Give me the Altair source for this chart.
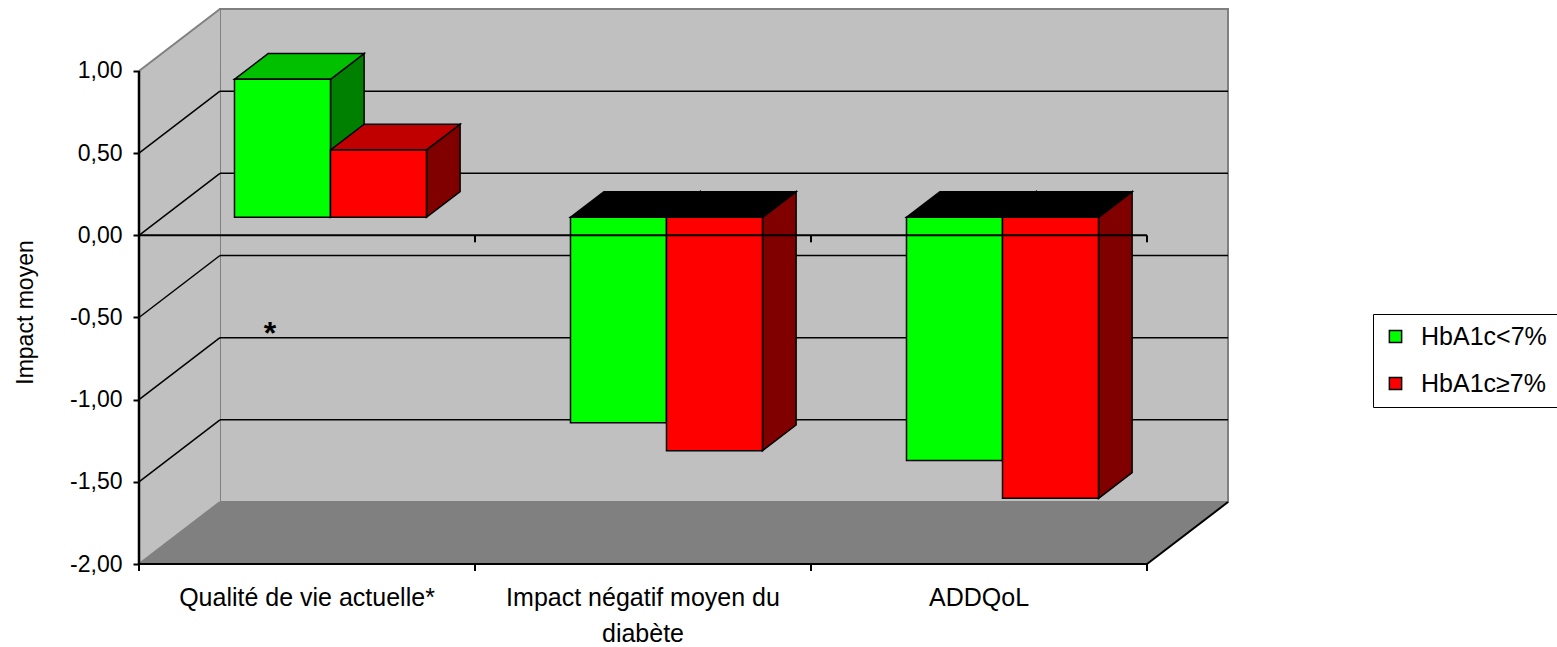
import altair as alt
import pandas as pd

# ---- data -------------------------------------------------------------
categories = ["Qualité de vie actuelle*", "Impact négatif moyen du\ndiabète", "ADDQoL"]
series_names = ["HbA1c<7%", "HbA1c≥7%"]
hba1c_below_7 = [0.84, -1.25, -1.48]
hba1c_7_or_more = [0.41, -1.42, -1.71]
y_ticks = [-2.0, -1.5, -1.0, -0.5, 0.0, 0.5, 1.0]

# ---- styling / 3D projection -------------------------------------------
FONT = "Liberation Sans"
DEPTH_X = 0.241          # shift (category units) from front plane to back wall
DEPTH_Y = 0.377          # shift (value units) from front plane to back wall
BAR_Z0, BAR_Z1 = 0.29, 0.705   # depth of bar front / back faces
BAR_W = 1 / 3.5          # two bars + 150 % gap per category
N = len(categories)
Y_MIN, Y_MAX = y_ticks[0], y_ticks[-1]

front_colors = ["#00FF00", "#FF0000"]
top_colors = ["#00C000", "#C00000"]
side_colors = ["#008000", "#800000"]
WALL = "#C0C0C0"
FLOOR = "#808080"
EDGE = "#808080"

xs = alt.Scale(domain=[0, N + DEPTH_X], nice=False, zero=False)
ys = alt.Scale(domain=[Y_MIN, Y_MAX + DEPTH_Y], nice=False, zero=False)

y_axis = alt.Axis(
    values=y_ticks,
    labelExpr="(datum.value < 0 ? '-' : '') + replace(format(abs(datum.value), '.2f'), '.', ',')",
    domain=False, grid=False, ticks=True, tickSize=6, tickWidth=2, tickColor="black",
    labelFont=FONT, labelFontSize=23, labelColor="black", labelPadding=11,
    title="Impact moyen", titleFont=FONT, titleFontSize=23, titleFontWeight="normal",
    titleColor="black", titleAngle=270, titleX=-114, titleY=303,
    titleAlign="center", titleBaseline="middle", zindex=1,
)


def X(f):
    return alt.X(f, type="quantitative", scale=xs, axis=None)


def Y(f):
    return alt.Y(f, type="quantitative", scale=ys, axis=y_axis)


def segments(rows, color, width, **extra):
    """Straight line segments between (x, y) and (x2, y2)."""
    return alt.Chart(pd.DataFrame(rows)).mark_rule(color=color, strokeWidth=width, **extra).encode(
        x=X("x"), x2="x2", y=Y("y"), y2="y2"
    )


def verticals(rows, color, width, **extra):
    """Vertical line segments at x from y to y2."""
    return alt.Chart(pd.DataFrame(rows)).mark_rule(color=color, strokeWidth=width, **extra).encode(
        x=X("x"), y=Y("y"), y2="y2"
    )


# ---- bar faces ---------------------------------------------------------
front_rows, top_rows, side_rows = [], [], []
for s, vals in enumerate([hba1c_below_7, hba1c_7_or_more]):
    for k, v in enumerate(vals):
        xa = k + 0.5 - BAR_W + s * BAR_W
        xb = xa + BAR_W
        hi, lo = max(v, 0.0), min(v, 0.0)
        fid = f"{s}-{k}"
        front_rows.append(dict(series=series_names[s],
                               x=xa + BAR_Z0 * DEPTH_X, x2=xb + BAR_Z0 * DEPTH_X,
                               y=lo + BAR_Z0 * DEPTH_Y, y2=hi + BAR_Z0 * DEPTH_Y))
        top_fill = top_colors[s] if v > 0 else "#000000"
        for z in (BAR_Z0, BAR_Z1):
            top_rows.append(dict(face=fid, fill=top_fill, y=hi + z * DEPTH_Y,
                                 x=xa + z * DEPTH_X, x2=xb + z * DEPTH_X))
            side_rows.append(dict(face=fid, fill=side_colors[s], x=xb + z * DEPTH_X,
                                  y=hi + z * DEPTH_Y, y2=lo + z * DEPTH_Y))

front_df = pd.DataFrame(front_rows)
top_df = pd.DataFrame(top_rows)
side_df = pd.DataFrame(side_rows)

# ---- walls and floor ---------------------------------------------------
back_wall = alt.Chart(pd.DataFrame([dict(x=DEPTH_X, x2=N + DEPTH_X, y=Y_MIN + DEPTH_Y, y2=Y_MAX + DEPTH_Y)])).mark_rect(
    fill=WALL, stroke=EDGE, strokeWidth=2
).encode(x=X("x"), x2="x2", y=Y("y"), y2="y2")

left_wall = alt.Chart(pd.DataFrame([
    dict(x=0.0, y=Y_MIN, y2=Y_MAX),
    dict(x=DEPTH_X, y=Y_MIN + DEPTH_Y, y2=Y_MAX + DEPTH_Y),
])).mark_area(orient="vertical", fill=WALL, opacity=1).encode(x=X("x"), y=Y("y"), y2="y2")

floor = alt.Chart(pd.DataFrame([
    dict(y=Y_MIN, x=0.0, x2=float(N)),
    dict(y=Y_MIN + DEPTH_Y, x=DEPTH_X, x2=N + DEPTH_X),
])).mark_area(orient="horizontal", fill=FLOOR, opacity=1).encode(y=Y("y"), x=X("x"), x2="x2")

inner_ticks = [t for t in y_ticks if Y_MIN < t < Y_MAX]
back_grid = segments([dict(x=DEPTH_X, x2=N + DEPTH_X, y=t + DEPTH_Y, y2=t + DEPTH_Y) for t in inner_ticks],
                     "black", 1.5)
left_grid = segments([dict(x=0.0, x2=DEPTH_X, y=t, y2=t + DEPTH_Y) for t in inner_ticks], "black", 1.5)
grey_edges = segments([dict(x=0.0, x2=DEPTH_X, y=t, y2=t + DEPTH_Y) for t in (Y_MIN, Y_MAX)], EDGE, 2)
floor_right_edge = segments([dict(x=float(N), x2=N + DEPTH_X, y=Y_MIN, y2=Y_MIN + DEPTH_Y)], "black", 2)

# ---- bars --------------------------------------------------------------
sides = alt.Chart(side_df).mark_area(orient="vertical", stroke="black", strokeWidth=1.5, opacity=1).encode(
    x=X("x"), y=Y("y"), y2="y2", detail="face:N", fill=alt.Fill("fill:N", scale=None)
)
tops = alt.Chart(top_df).mark_area(orient="horizontal", stroke="black", strokeWidth=1.5, opacity=1).encode(
    y=Y("y"), x=X("x"), x2="x2", detail="face:N", fill=alt.Fill("fill:N", scale=None)
)
fronts = alt.Chart(front_df).mark_rect(stroke="black", strokeWidth=1.5, opacity=1).encode(
    x=X("x"), x2="x2", y=Y("y"), y2="y2",
    color=alt.Color("series:N", scale=alt.Scale(domain=series_names, range=front_colors),
                    legend=alt.Legend(title=None, orient="none", legendX=1234, legendY=305,
                                      direction="vertical", symbolType="square", symbolSize=150,
                                      symbolStrokeColor="black", symbolStrokeWidth=1.5,
                                      labelFont=FONT, labelFontSize=25, labelColor="black",
                                      labelOffset=13, rowPadding=21, padding=10,
                                      strokeColor="black", fillColor="white")),
)

# ---- front axes (drawn over the bars) ------------------------------------
value_axis_line = verticals([dict(x=0.0, y=Y_MIN, y2=Y_MAX)], "black", 2.5)
front_lines = segments([
    dict(x=0.0, x2=float(N), y=0.0, y2=0.0),
    dict(x=0.0, x2=float(N), y=Y_MIN, y2=Y_MIN),
], "black", 2)

zero_ticks = segments([dict(x=float(k), x2=float(k), y=0.0, y2=0.0) for k in range(1, N + 1)],
                      "black", 2, y2Offset=7)
bottom_ticks = segments([dict(x=float(k), x2=float(k), y=Y_MIN, y2=Y_MIN) for k in range(0, N + 1)],
                        "black", 2, y2Offset=7)

cat_labels = alt.Chart(pd.DataFrame(dict(x=[k + 0.5 for k in range(N)], y=[Y_MIN] * N, label=categories))).mark_text(
    font=FONT, fontSize=25, color="black", align="center", baseline="top",
    dy=22, lineBreak="\n", lineHeight=36
).encode(x=X("x"), y=Y("y"), text="label:N")

# significance marker
STAR_X, STAR_Y = 0.39, -0.66
star = alt.Chart(pd.DataFrame(dict(x=[STAR_X], y=[STAR_Y]))).mark_text(
    text="*", font=FONT, fontSize=32, fontWeight="bold", color="black", baseline="alphabetic"
).encode(x=X("x"), y=Y("y"))

chart = alt.layer(
    back_wall, left_wall, floor, back_grid, left_grid, grey_edges, floor_right_edge,
    sides, tops, fronts, value_axis_line, front_lines, zero_ticks, bottom_ticks, cat_labels, star,
).properties(
    width=1089, height=555,
    autosize=alt.AutoSizeParams(type="none"),
    padding={"left": 139, "top": 9, "right": 329, "bottom": 83},
    background="white",
).configure_view(strokeWidth=0)

chart.save("out.html", embed_options={"renderer": "svg", "actions": False})
